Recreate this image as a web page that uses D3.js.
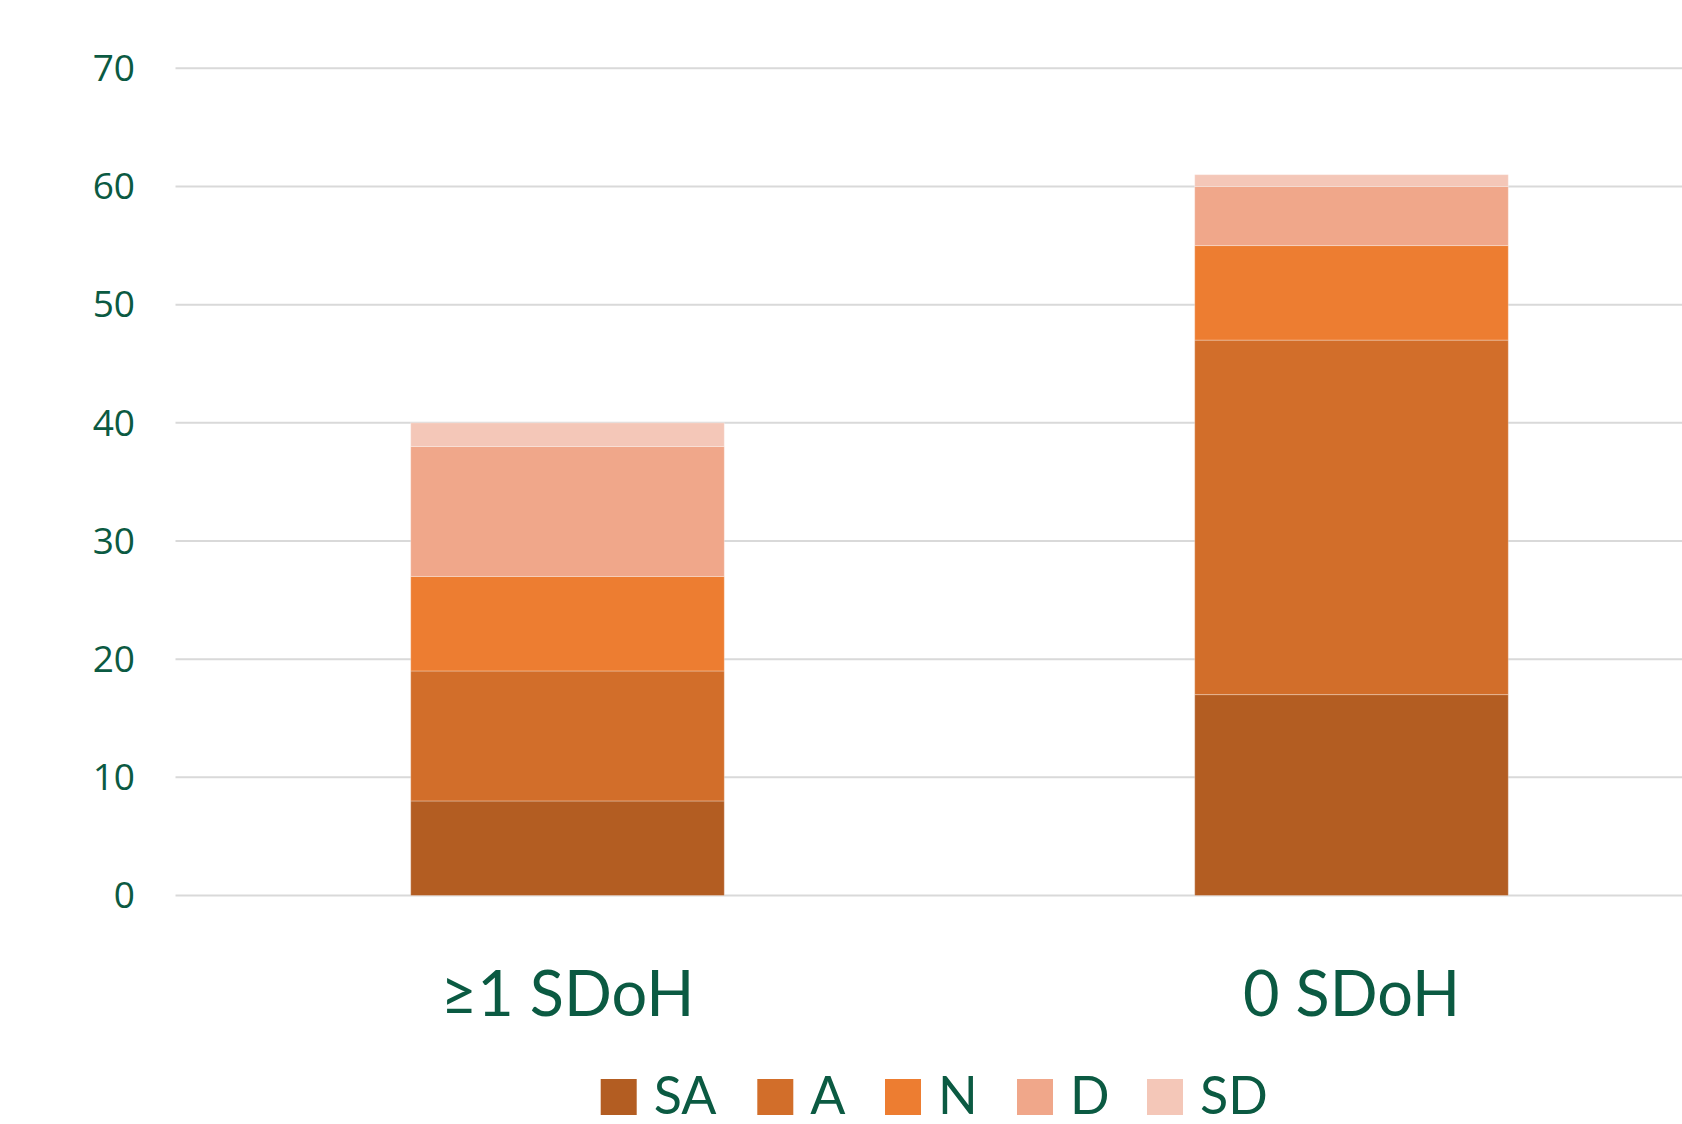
<!DOCTYPE html>
<html>
<head>
<meta charset="utf-8">
<script src="https://cdn.jsdelivr.net/npm/d3@7"></script>
<style>
  html, body { margin: 0; padding: 0; background: #fff; }
  svg { display: block; }
</style>
</head>
<body>
<svg id="chart" width="1682" height="1124"></svg>
<script>
// Response groups and their counts per category
const categories = ["≥1 SDoH", "0 SDoH"];
const seriesNames = ["SA", "A", "N", "D", "SD"];
const SA = [8, 17];
const A  = [11, 30];
const N  = [8, 8];
const D  = [11, 5];
const SD = [2, 1];
const yTicks = [0, 10, 20, 30, 40, 50, 60, 70];
const colors = ["#B35D22", "#D26E2A", "#ED7D31", "#F0A78A", "#F4C7B8"];

const rows = categories.map((c, i) => ({
  cat: c, SA: SA[i], A: A[i], N: N[i], D: D[i], SD: SD[i]
}));

const W = 1682, H = 1124;
const textColor = "#0B5A42";
const svg = d3.select("#chart");

const x = d3.scaleBand()
  .domain(categories)
  .range([175.5, 1743.5])
  .paddingInner(0.6)
  .paddingOuter(0.3);

const y = d3.scaleLinear()
  .domain([0, 70])
  .range([895.5, 68.3]);

// Horizontal gridlines
svg.append("g")
  .selectAll("line")
  .data(yTicks)
  .join("line")
  .attr("x1", 175.5)
  .attr("x2", W)
  .attr("y1", d => y(d))
  .attr("y2", d => y(d))
  .attr("stroke", "#D9D9D9")
  .attr("stroke-width", 2);

// Y axis tick labels
const yAxis = d3.axisLeft(y).tickValues(yTicks).tickSize(0).tickPadding(0);
const gy = svg.append("g")
  .attr("transform", "translate(135,0)")
  .call(yAxis);
gy.select(".domain").remove();
gy.selectAll("text")
  .attr("fill", textColor)
  .attr("font-family", "'Open Sans', sans-serif")
  .attr("font-size", 37)
  .attr("dy", "0.33em");

// Stacked bars
const stack = d3.stack().keys(seriesNames);
const layers = stack(rows);

svg.append("g")
  .selectAll("g")
  .data(layers)
  .join("g")
  .attr("fill", (d, i) => colors[i])
  .selectAll("rect")
  .data(d => d)
  .join("rect")
  .attr("x", d => x(d.data.cat))
  .attr("width", x.bandwidth())
  .attr("y", d => y(d[1]))
  .attr("height", d => y(d[0]) - y(d[1]))
  .attr("stroke", "rgba(255,255,255,0.3)")
  .attr("stroke-width", 1);

// Category labels
svg.append("g")
  .selectAll("text")
  .data(categories)
  .join("text")
  .attr("x", d => x(d) + x.bandwidth() / 2)
  .attr("y", 1016)
  .attr("text-anchor", "middle")
  .attr("fill", textColor)
  .attr("font-family", "Lato, sans-serif")
  .attr("font-size", 63)
  .text(d => d);

// Legend
const legendX = [600.7, 757.3, 885, 1017, 1147];
const legend = svg.append("g")
  .selectAll("g")
  .data(seriesNames)
  .join("g")
  .attr("transform", (d, i) => `translate(${legendX[i]},1079)`);

legend.append("rect")
  .attr("width", 36)
  .attr("height", 36)
  .attr("fill", (d, i) => colors[i]);

legend.append("text")
  .attr("x", 53)
  .attr("y", 35)
  .attr("fill", textColor)
  .attr("font-family", "Lato, sans-serif")
  .attr("font-size", 52)
  .text(d => d);
</script>
</body>
</html>
